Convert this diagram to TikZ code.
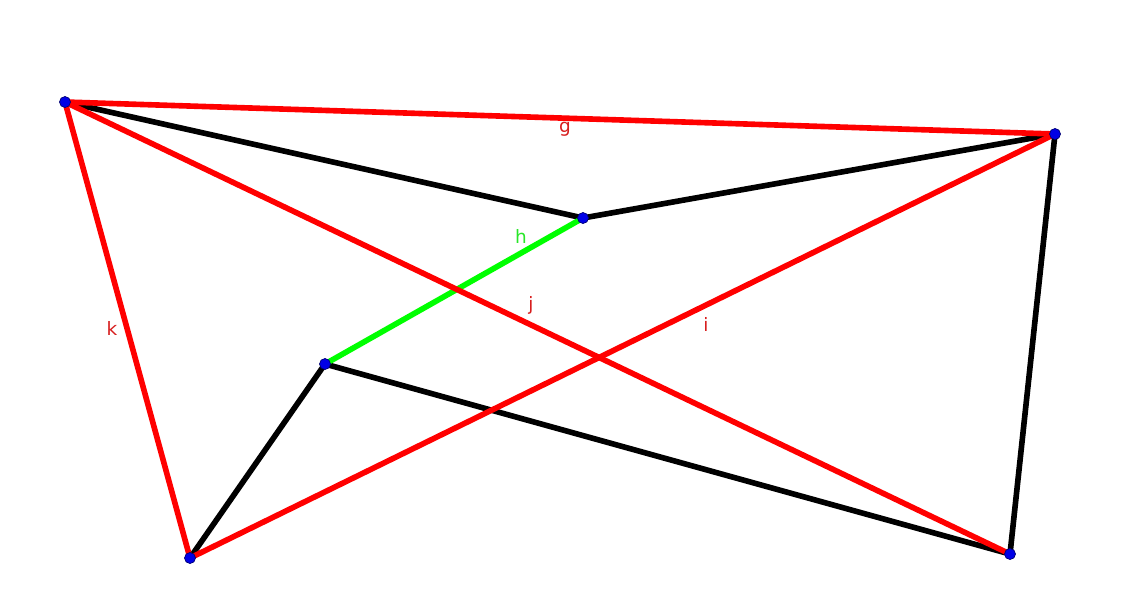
\documentclass[tikz,border=0pt]{standalone}
\usepackage{fontspec}
\setmainfont{DejaVu Sans}
\usepackage{tikz}
\usetikzlibrary{positioning}

\definecolor{segred}{RGB}{255,0,0}
\definecolor{segblack}{RGB}{0,0,0}
\definecolor{seggreen}{RGB}{0,255,0}
\definecolor{ptblue}{RGB}{0,0,230}
\definecolor{labred}{RGB}{215,30,30}
\definecolor{labgreen}{RGB}{40,230,40}

\begin{document}
\begin{tikzpicture}[
      x=0.02cm, y=-0.02cm,
      pt/.style={circle, draw=ptblue!50!black, fill=ptblue, line width=0.4pt, inner sep=0pt, minimum size=0.22cm},
      blackseg/.style={draw=segblack, line width=3.2pt},
      greenseg/.style={draw=seggreen, line width=3.2pt},
      redseg/.style={draw=segred, line width=3.2pt},
      seglabel/.style={font=\fontsize{10.5}{12}\selectfont, text=labred, inner sep=0pt},
      hlabel/.style={font=\fontsize{10.5}{12}\selectfont, text=labgreen, inner sep=0pt}
    ]
    \useasboundingbox (0,0) rectangle (1146,610);

    % vertices
    \coordinate (A) at (65,102);
    \coordinate (B) at (1055,134);
    \coordinate (C) at (583,218);
    \coordinate (D) at (325,364);
    \coordinate (E) at (190,558);
    \coordinate (F) at (1010,554);

    % black segments
    \draw[blackseg] (A) -- (C) -- (B);
    \draw[blackseg] (E) -- (D) -- (F) -- (B);

    % green segment h
    \draw[greenseg] (C) -- (D);

    % red segments
    \draw[redseg] (A) -- (B);
    \draw[redseg] (A) -- (F);
    \draw[redseg] (A) -- (E);
    \draw[redseg] (E) -- (B);

    % labels
    \node[seglabel] (g) at (565,129) {g};
    \node[hlabel] (h) at (521,236) {h};
    \node[seglabel] (j) at (531,305) {j};
    \node[seglabel] (i) at (706,324) {i};
    \node[seglabel] (k) at (112,328) {k};

    % points
    \foreach \p in {A,B,C,D,E,F}
      \node[pt] (pt\p) at (\p) {};
  \end{tikzpicture}
\end{document}
